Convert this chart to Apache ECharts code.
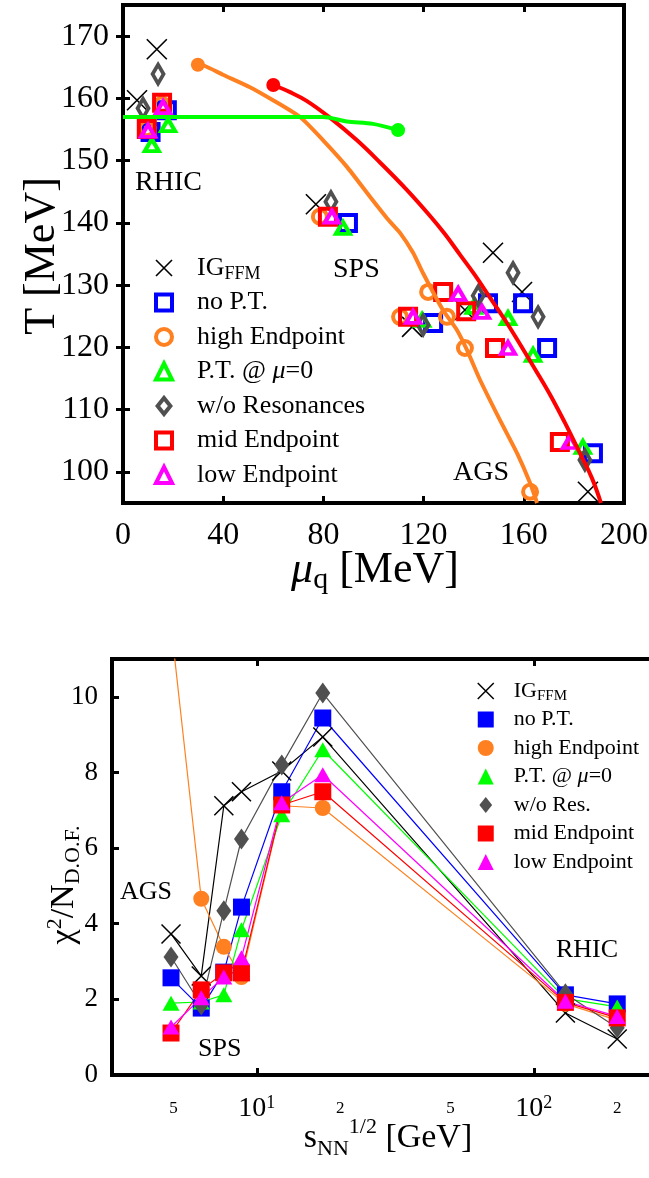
<!DOCTYPE html>
<html><head><meta charset="utf-8">
<script src="https://cdn.jsdelivr.net/npm/echarts@6/dist/echarts.min.js"></script>
<style>html,body{margin:0;padding:0;background:#fff}#c{width:649px;height:1178px}</style>
</head><body><div id="c"></div>
<script>
const FONT = '"Liberation Serif","Times New Roman",serif';

// ---------- Top panel: freeze-out points [mu_q (MeV), T (MeV)] ----------
const topIG    = [[185.6,96.8],[159.3,128.9],[147.7,135.2],[136.5,126.0],[115.4,123.3],[77.0,143.0],[13.5,167.9],[5.6,159.7]];
const topNoPT  = [[187.6,103.0],[169.3,119.9],[159.7,127.1],[145.7,127.1],[123.8,123.9],[89.8,140.0],[17.5,158.1],[11.0,154.6]];
const topHigh  = [[162.5,96.8],[136.5,119.9],[129.3,124.9],[121.8,128.9],[110.6,124.9],[78.6,141.0],[15.5,159.0],[9.5,155.2]];
const topPT0   = [[183.6,104.0],[163.7,118.8],[153.7,124.7],[140.0,126.5],[119.4,124.4],[87.8,139.2],[18.0,155.7],[11.5,152.5]];
const topWoRes = [[184.4,101.9],[165.7,124.9],[155.7,132.0],[141.8,128.3],[119.8,123.6],[83.0,143.4],[14.0,163.9],[8.0,158.4]];
const topMid   = [[174.4,104.8],[148.5,119.9],[137.0,125.8],[127.8,128.9],[113.8,124.9],[81.8,141.0],[15.6,159.3],[9.5,155.1]];
const topLow   = [[178.4,104.8],[153.7,119.9],[143.3,125.7],[133.8,128.6],[115.8,124.9],[83.4,141.0],[16.0,158.6],[10.0,154.8]];

// phase boundary lines [mu_q, T]
const lineHigh = [[29.9,165.4],[32.7,165.2],[39.9,163.8],[50.7,161.8],[59.9,159.7],[70.7,157.0],[79.8,153.3],[89.4,149.0],[98.6,144.2],[105.9,140.5],[110.6,138.4],[115.8,135.2],[119.8,131.9],[127.7,126.0],[133.3,122.8],[137.3,119.6],[142.5,114.8],[150.5,108.3],[157.3,103.0],[162.5,98.2],[165.3,95.0]];
const lineMid  = [[60.0,162.15],[66.7,161.0],[73.3,159.6],[82.6,156.9],[93.3,153.3],[102.6,149.7],[113.3,145.3],[122.6,141.1],[128.5,138.2],[134.5,134.9],[140.5,131.6],[146.5,128.0],[152.5,124.4],[158.5,120.5],[164.5,116.5],[170.5,112.4],[176.4,107.9],[182.4,103.0],[187.2,99.0],[190.8,95.0]];
const linePT   = [[0,157.0],[79.8,157.0],[89.4,156.3],[99.8,155.9],[109.8,154.9]];

const topTicksX = [0,40,80,120,160,200];
const topTicksY = [100,110,120,130,140,150,160,170];

// ---------- Bottom panel: chi^2/N_dof vs sqrt(s_NN) ----------
const energies = [4.9,6.3,7.6,8.8,12.3,17.3,130,200];
const chiIG    = [3.73,2.62,7.12,7.49,8.04,8.94,1.64,0.95];
const chiNoPT  = [2.57,1.77,2.72,4.44,7.49,9.44,2.12,1.88];
const chiHigh  = [11.9,4.66,3.39,2.59,7.12,7.06,1.88,1.45];
const chiPT0   = [1.90,1.93,2.12,3.84,6.88,8.60,2.02,1.80];
const chiWoRes = [3.12,1.85,4.34,6.24,8.20,10.10,2.15,1.25];
const chiMid   = [1.11,2.25,2.70,2.70,7.14,7.49,1.92,1.51];
const chiLow   = [1.27,2.04,2.59,3.10,7.20,7.94,1.95,1.55];

const botTicksX = [5,10,20,50,100,200];
const botMajorX = [10,100];
const botTicksY = [0,2,4,6,8,10];

// ---------- styles ----------
const BLACK='#000000', BLUE='#0000ff', ORANGE='#ff8020', GREEN='#00ff00', GRAY='#505050', RED='#ff0000', MAGENTA='#ff00ff';
const XPATH = 'path://M0,0L10,10M10,0L0,10';
const DIAMOND_ICON = 'path://M8,0L16,10L8,20L0,10Z';
const NONE = 'rgba(0,0,0,0)';

const topModels = [
  {id:'tIG',  data:topIG,    sym:XPATH,     size:20,      fill:BLACK, stroke:BLACK,   bw:1.6, icon:XPATH,   label:'{n|IG}{sub|FFM}'},
  {id:'tNo',  data:topNoPT,  sym:'rect',    size:16,      fill:NONE,  stroke:BLUE,    bw:4,   icon:'rect',  label:'{n|no P.T.}'},
  {id:'tHi',  data:topHigh,  sym:'circle',  size:14,      fill:NONE,  stroke:ORANGE,  bw:4,   icon:'circle',label:'{n|high Endpoint}'},
  {id:'tPT',  data:topPT0,   sym:'triangle',size:[14,12], fill:NONE,  stroke:GREEN,   bw:4,   icon:'triangle',label:'{n|P.T. @ }{i|μ}{n|=0}'},
  {id:'tWo',  data:topWoRes, sym:'diamond', size:[11,19], fill:NONE,  stroke:GRAY,    bw:4,   icon:DIAMOND_ICON,label:'{n|w/o Resonances}'},
  {id:'tMid', data:topMid,   sym:'rect',    size:16,      fill:NONE,  stroke:RED,     bw:4,   icon:'rect',  label:'{n|mid Endpoint}'},
  {id:'tLow', data:topLow,   sym:'triangle',size:[14,12], fill:NONE,  stroke:MAGENTA, bw:4,   icon:'triangle',label:'{n|low Endpoint}'}
];
const botModels = [
  {id:'bIG',  data:chiIG,    sym:XPATH,     size:19,      color:BLACK,   bw:1.5, icon:XPATH,   label:'{n|IG}{sub|FFM}'},
  {id:'bNo',  data:chiNoPT,  sym:'rect',    size:17,      color:BLUE,    bw:0,   icon:'rect',  label:'{n|no P.T.}'},
  {id:'bHi',  data:chiHigh,  sym:'circle',  size:16,      color:ORANGE,  bw:0,   icon:'circle',label:'{n|high Endpoint}'},
  {id:'bPT',  data:chiPT0,   sym:'triangle',size:[17,15], color:GREEN,   bw:0,   icon:'triangle',label:'{n|P.T. @ }{i|μ}{n|=0}'},
  {id:'bWo',  data:chiWoRes, sym:'diamond', size:[15,21], color:GRAY,    bw:0,   icon:DIAMOND_ICON,label:'{n|w/o Res.}'},
  {id:'bMid', data:chiMid,   sym:'rect',    size:17,      color:RED,     bw:0,   icon:'rect',  label:'{n|mid Endpoint}'},
  {id:'bLow', data:chiLow,   sym:'triangle',size:[17,15], color:MAGENTA, bw:0,   icon:'triangle',label:'{n|low Endpoint}'}
];

const series = [];
topModels.forEach(m => series.push({
  type:'scatter', name:m.id, xAxisIndex:0, yAxisIndex:0, data:m.data,
  symbol:m.sym, symbolSize:m.size, silent:true,
  itemStyle:{color:m.fill, borderColor:m.stroke, borderWidth:m.bw, opacity:1}
}));
function boundary(data, color, endIdx, smooth) {
  return {
    type:'line', xAxisIndex:0, yAxisIndex:0, silent:true, smooth:smooth, z:5,
    data: data.map((p,i)=> i===endIdx ? {value:p, symbol:'circle', symbolSize:14} : {value:p, symbol:'none'}),
    showSymbol:true, lineStyle:{color:color, width:4}, itemStyle:{color:color}
  };
}
series.push(boundary(lineHigh, ORANGE, 0, 0.2));
series.push(boundary(lineMid, RED, 0, 0.4));
series.push(boundary(linePT, GREEN, linePT.length-1, 0.3));

botModels.forEach(m => series.push({
  type:'line', name:m.id, xAxisIndex:2, yAxisIndex:2, clip:true, silent:true,
  data: energies.map((e,i)=>[e, m.data[i]]),
  symbol:m.sym, symbolSize:m.size, showSymbol:true,
  lineStyle:{color:m.color, width:1.2},
  itemStyle:{color:m.color, borderColor:m.color, borderWidth:m.bw}
}));

const labelMap = {};
topModels.forEach(m => labelMap[m.id]=m.label);
botModels.forEach(m => labelMap[m.id]=m.label);

const tickStyle = {inside:true, length:7, lineStyle:{color:'#000', width:3}};

const option = {
  animation:false,
  backgroundColor:'#fff',
  grid:[
    {left:123, top:5, width:501, height:498, show:true, borderColor:'#000', borderWidth:4, backgroundColor:'transparent', outerBoundsMode:'none', containLabel:false},
    {left:112, top:659, width:554, height:416, show:true, borderColor:'#000', borderWidth:4, backgroundColor:'transparent', outerBoundsMode:'none', containLabel:false}
  ],
  xAxis:[
    {type:'value', gridIndex:0, min:0, max:200, position:'bottom',
     axisLine:{show:false}, splitLine:{show:false},
     axisTick:Object.assign({customValues:topTicksX}, tickStyle),
     axisLabel:{customValues:topTicksX, fontFamily:FONT, fontSize:32, color:'#000', margin:17}},
    {type:'value', gridIndex:0, min:0, max:200, position:'top',
     axisLine:{show:false}, splitLine:{show:false},
     axisTick:Object.assign({customValues:topTicksX}, tickStyle), axisLabel:{show:false}},
    {type:'log', logBase:10, gridIndex:1, min:3, max:300, position:'bottom',
     axisLine:{show:false}, splitLine:{show:false}, minorTick:{show:false},
     axisTick:Object.assign({customValues:botMajorX}, tickStyle),
     axisLabel:{customValues:botTicksX, margin:19, color:'#000',
       formatter:function(v){ if (Math.abs(v-10)<1e-6) return '{b|10}{p|1}'; if (Math.abs(v-100)<1e-6) return '{b|10}{p|2}'; return '{s|'+String(Math.round(v)).charAt(0)+'}'; },
       rich:{
         b:{fontFamily:FONT, fontSize:28, lineHeight:30, color:'#000'},
         p:{fontFamily:FONT, fontSize:18, lineHeight:16, verticalAlign:'top', color:'#000'},
         s:{fontFamily:FONT, fontSize:17, lineHeight:22, padding:[8,0,0,0], color:'#000'}
       }}},
    {type:'log', logBase:10, gridIndex:1, min:3, max:300, position:'top',
     axisLine:{show:false}, splitLine:{show:false}, minorTick:{show:false},
     axisTick:Object.assign({customValues:botMajorX}, tickStyle), axisLabel:{show:false}}
  ],
  yAxis:[
    {type:'value', gridIndex:0, min:95, max:175, position:'left',
     axisLine:{show:false}, splitLine:{show:false},
     axisTick:Object.assign({customValues:topTicksY}, tickStyle),
     axisLabel:{customValues:topTicksY, fontFamily:FONT, fontSize:32, color:'#000', margin:14}},
    {type:'value', gridIndex:0, min:95, max:175, position:'right',
     axisLine:{show:false}, splitLine:{show:false},
     axisTick:Object.assign({customValues:topTicksY}, tickStyle), axisLabel:{show:false}},
    {type:'value', gridIndex:1, min:0, max:11, position:'left',
     axisLine:{show:false}, splitLine:{show:false},
     axisTick:Object.assign({customValues:botTicksY}, tickStyle),
     axisLabel:{customValues:botTicksY, fontFamily:FONT, fontSize:27, color:'#000', margin:14}}
  ],
  legend:[
    {orient:'vertical', left:154, top:253, itemWidth:16, itemHeight:16, itemGap:4.5, padding:0,
     selectedMode:false,
     data: topModels.map(m=>({name:m.id, icon:m.icon, itemStyle:{color:m.fill, borderColor:m.stroke, borderWidth:m.bw}})),
     formatter: n=>labelMap[n],
     textStyle:{fontFamily:FONT, fontSize:26, lineHeight:30, color:'#000', padding:[0,0,0,20],
       rich:{
         n:{fontFamily:FONT, fontSize:26, lineHeight:30, color:'#000'},
         i:{fontFamily:FONT, fontSize:26, lineHeight:30, fontStyle:'italic', color:'#000'},
         sub:{fontFamily:FONT, fontSize:18, lineHeight:12, verticalAlign:'bottom', color:'#000'}
       }}},
    {orient:'vertical', left:477, top:678, itemWidth:16, itemHeight:16, itemGap:2.5, padding:0,
     selectedMode:false,
     data: botModels.map(m=>({name:m.id, icon:m.icon, itemStyle:{color:m.color, borderColor:m.color, borderWidth:m.bw}})),
     formatter: n=>labelMap[n],
     textStyle:{fontFamily:FONT, fontSize:22, lineHeight:26, color:'#000', padding:[0,0,0,15],
       rich:{
         n:{fontFamily:FONT, fontSize:22, lineHeight:26, color:'#000'},
         i:{fontFamily:FONT, fontSize:22, lineHeight:26, fontStyle:'italic', color:'#000'},
         sub:{fontFamily:FONT, fontSize:15, lineHeight:12, verticalAlign:'bottom', color:'#000'}
       }}}
  ],
  graphic:[
    {type:'text', x:135, y:183, silent:true, style:{text:'RHIC', font:'28px '+FONT, fill:'#000', align:'left', verticalAlign:'middle'}},
    {type:'text', x:333, y:270, silent:true, style:{text:'SPS', font:'28px '+FONT, fill:'#000', align:'left', verticalAlign:'middle'}},
    {type:'text', x:453, y:473, silent:true, style:{text:'AGS', font:'28px '+FONT, fill:'#000', align:'left', verticalAlign:'middle'}},
    {type:'text', x:120, y:892, silent:true, style:{text:'AGS', font:'26px '+FONT, fill:'#000', align:'left', verticalAlign:'middle'}},
    {type:'text', x:198, y:1049, silent:true, style:{text:'SPS', font:'26px '+FONT, fill:'#000', align:'left', verticalAlign:'middle'}},
    {type:'text', x:556, y:950, silent:true, style:{text:'RHIC', font:'26px '+FONT, fill:'#000', align:'left', verticalAlign:'middle'}},
    // axis titles
    {type:'text', x:42, y:256, rotation:Math.PI/2, silent:true,
     style:{text:'T [MeV]', font:'44px '+FONT, fill:'#000', align:'center', verticalAlign:'middle'}},
    {type:'text', x:375, y:570, silent:true,
     style:{text:'{i|μ}{s|q}{n| [MeV]}', align:'center', verticalAlign:'middle',
       rich:{i:{fontFamily:FONT, fontSize:44, lineHeight:50, fontStyle:'italic', fill:'#000'},
             s:{fontFamily:FONT, fontSize:30, lineHeight:16, verticalAlign:'bottom', fill:'#000'},
             n:{fontFamily:FONT, fontSize:44, lineHeight:50, fill:'#000'}}}},
    {type:'text', x:64, y:885, rotation:Math.PI/2, silent:true,
     style:{text:'{n|χ}{p|2}{n|/N}{s|D.O.F.}', align:'center', verticalAlign:'middle',
       rich:{n:{fontFamily:FONT, fontSize:34, lineHeight:40, fill:'#000'},
             p:{fontFamily:FONT, fontSize:22, lineHeight:16, verticalAlign:'top', fill:'#000'},
             s:{fontFamily:FONT, fontSize:22, lineHeight:14, verticalAlign:'bottom', fill:'#000'}}}},
    {type:'text', x:388, y:1138, silent:true,
     style:{text:'{n|s}{s|NN}{p|1/2}{n| [GeV]}', align:'center', verticalAlign:'middle',
       rich:{n:{fontFamily:FONT, fontSize:34, lineHeight:44, fill:'#000'},
             p:{fontFamily:FONT, fontSize:22, lineHeight:16, verticalAlign:'top', fill:'#000'},
             s:{fontFamily:FONT, fontSize:22, lineHeight:14, verticalAlign:'bottom', fill:'#000'}}}}
  ],
  series: series
};

const chart = echarts.init(document.getElementById('c'), null, {renderer:'canvas', width:649, height:1178});
chart.setOption(option);
</script></body></html>
